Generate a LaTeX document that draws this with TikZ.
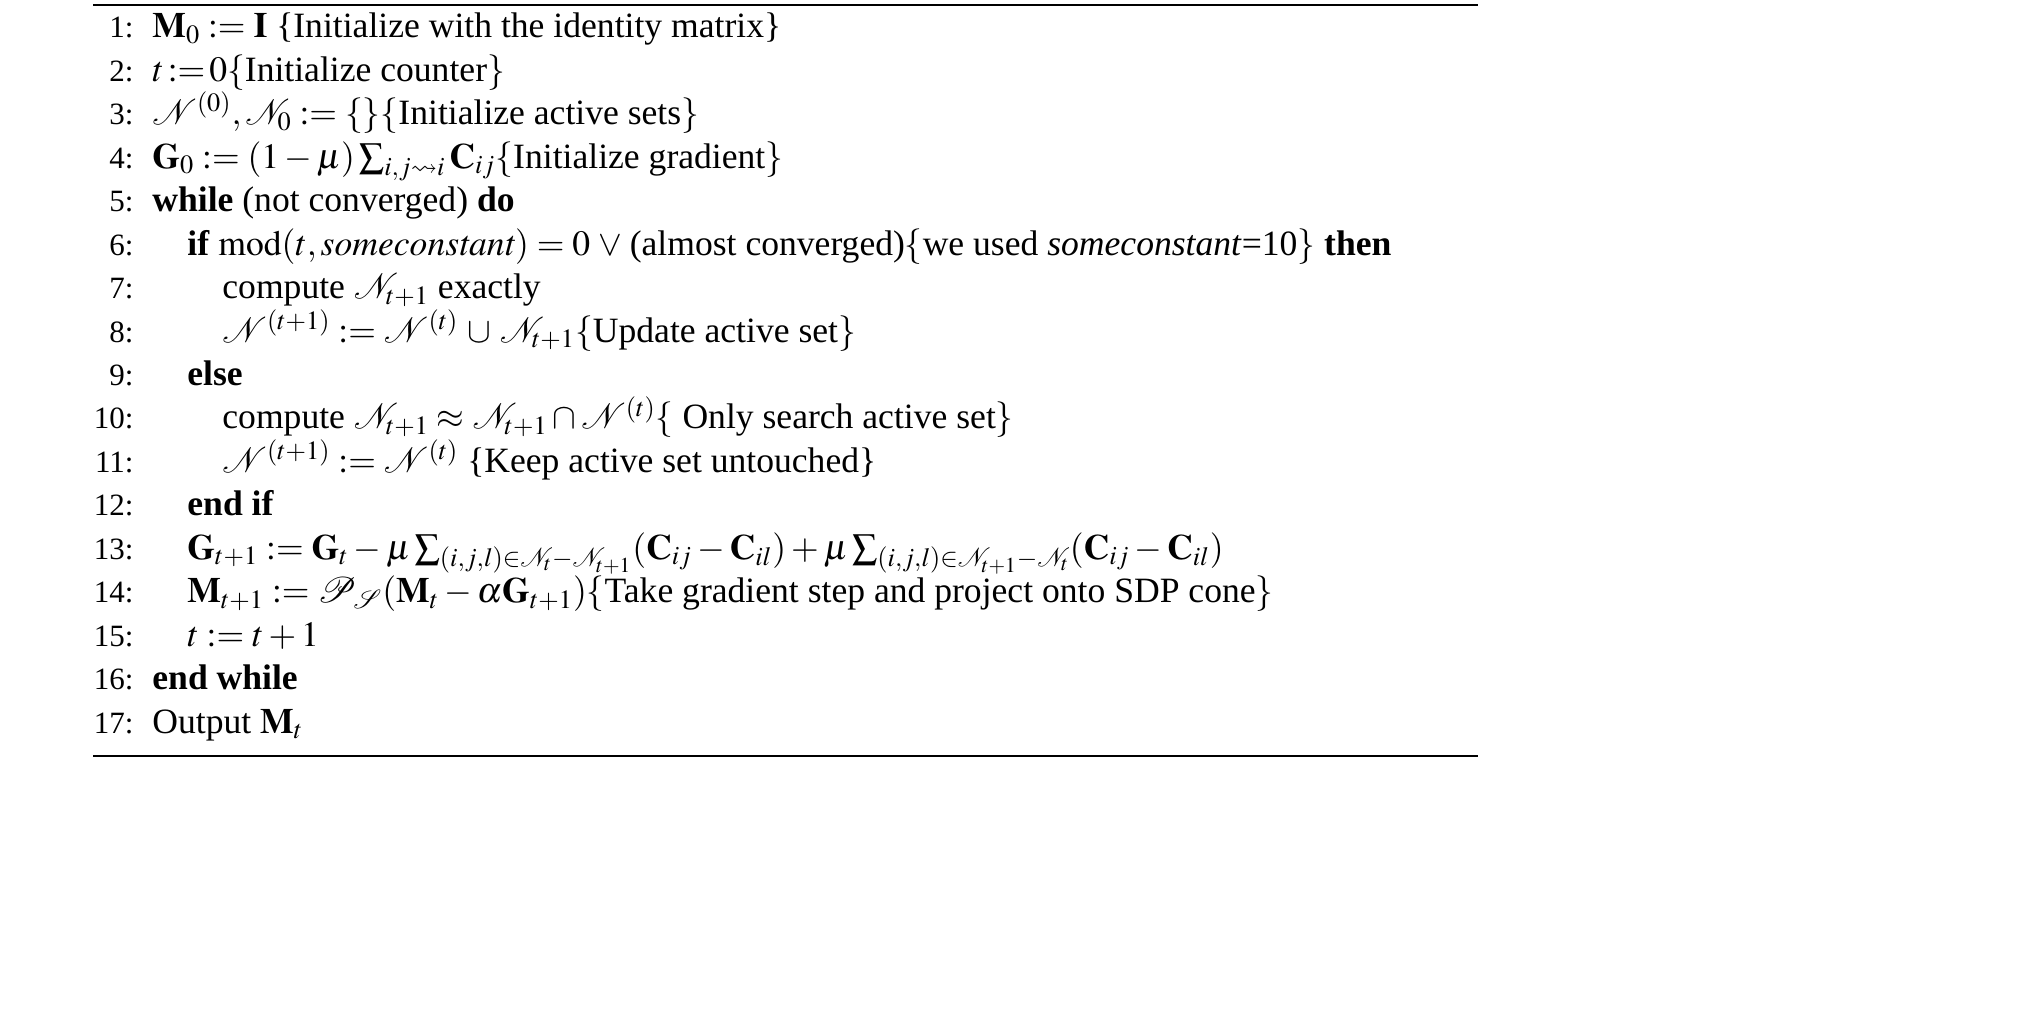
\documentclass[tikz,border=0pt]{standalone}
\usepackage{amssymb}
\usepackage{mathptmx}
\usepackage{fontspec}
\setmainfont{Liberation Serif}
\newcommand{\cN}{\mathcal{N}}
\newcommand{\tx}[1]{\mbox{#1}}
\begin{document}
\begin{tikzpicture}[x=0.5pt,y=-0.5pt,
  num/.style={anchor=base east,inner sep=0pt,font=\fontsize{15.5}{19}\selectfont},
  ln/.style={anchor=base west,inner sep=0pt,font=\fontsize{17.8}{22}\selectfont}]
\useasboundingbox (0,0) rectangle (2035,1017);
\draw[line width=0.8pt] (93,5) -- (1478,5);
\draw[line width=0.8pt] (93,756) -- (1478,756);
\foreach \i in {1,...,17}{\node[num] (n\i) at (134,{38+(\i-1)*43.44}) {\i:};}
\def\Y#1{{38+(#1-1)*43.44}}
\node[ln] (l1) at (152,\Y1) {$\mathbf{M}_0:=\mathbf{I}$ \{Initialize with the identity matrix\}};
\node[ln] (l2) at (152,\Y2) {$t\!:=\!0\{\tx{Initialize counter}\}$};
\node[ln] (l3) at (152,\Y3) {$\cN^{(0)},\cN_0:=\{\}\{\tx{Initialize active sets}\}$};
\node[ln] (l4) at (152,\Y4) {$\mathbf{G}_0:=(1-\mu)\sum_{i,j\rightsquigarrow i}\mathbf{C}_{ij}\{\tx{Initialize gradient}\}$};
\node[ln] (l5) at (152,\Y5) {\textbf{while} (not converged) \textbf{do}};
\node[ln] (l6) at (187,\Y6) {\textbf{if} $\mathrm{mod}(t,\mathit{someconstant})=0\;\vee\;$(almost converged)$\{$we used \textit{someconstant}=10$\}$ \textbf{then}};
\node[ln] (l7) at (222,\Y7) {compute $\cN_{t+1}$ exactly};
\node[ln] (l8) at (222,\Y8) {$\cN^{(t+1)}:=\cN^{(t)}\,\cup\,\cN_{t+1}\{\tx{Update active set}\}$};
\node[ln] (l9) at (187,\Y9) {\textbf{else}};
\node[ln] (l10) at (222,\Y{10}) {compute $\cN_{t+1}\approx\cN_{t+1}\cap\cN^{(t)}\{\tx{ Only search active set}\}$};
\node[ln] (l11) at (222,\Y{11}) {$\cN^{(t+1)}:=\cN^{(t)}$ \{Keep active set untouched\}};
\node[ln] (l12) at (187,\Y{12}) {\textbf{end if}};
\node[ln] (l13) at (187,\Y{13}) {$\mathbf{G}_{t+1}:=\mathbf{G}_t-\mu\sum_{(i,j,l)\in\cN_t-\cN_{t+1}}(\mathbf{C}_{ij}-\mathbf{C}_{il})+\mu\sum_{(i,j,l)\in\cN_{t+1}-\cN_t}(\mathbf{C}_{ij}-\mathbf{C}_{il})$};
\node[ln] (l14) at (187,\Y{14}) {$\mathbf{M}_{t+1}:=\mathcal{P}_{\mathcal{S}}(\mathbf{M}_t-\alpha\mathbf{G}_{t+1})\{\tx{Take gradient step and project onto SDP cone}\}$};
\node[ln] (l15) at (187,\Y{15}) {$t:=t+1$};
\node[ln] (l16) at (152,\Y{16}) {\textbf{end while}};
\node[ln] (l17) at (152,\Y{17}) {Output $\mathbf{M}_t$};
\end{tikzpicture}
\end{document}
